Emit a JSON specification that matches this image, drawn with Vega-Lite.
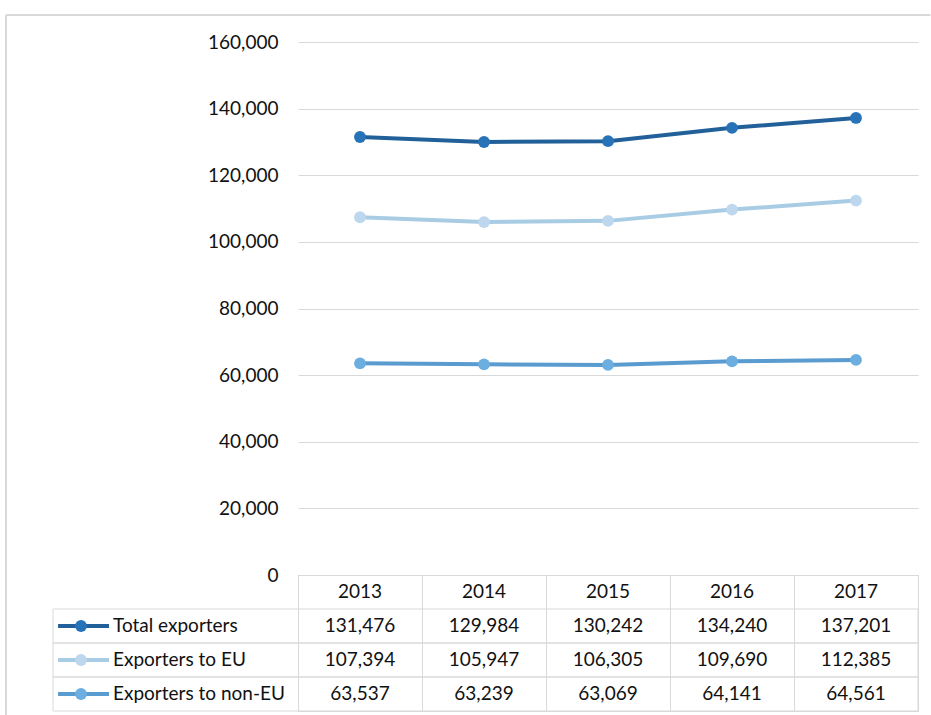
{
  "$schema": "https://vega.github.io/schema/vega-lite/v6.json",
  "padding": {"left": 4, "top": 14, "right": 0, "bottom": 0},
  "bounds": "flush",
  "spacing": 0,
  "background": "white",
  "config": {
    "view": {"stroke": null},
    "font": "Lato",
    "axis": {"labelFont": "Lato", "labelFontSize": 19, "labelColor": "#111111", "gridColor": "#d9d9d9", "gridWidth": 1}
  },
  "datasets": {
    "exp": [
      {"year": 2013, "series": "Total exporters", "value": 131476},
      {"year": 2014, "series": "Total exporters", "value": 129984},
      {"year": 2015, "series": "Total exporters", "value": 130242},
      {"year": 2016, "series": "Total exporters", "value": 134240},
      {"year": 2017, "series": "Total exporters", "value": 137201},
      {"year": 2013, "series": "Exporters to EU", "value": 107394},
      {"year": 2014, "series": "Exporters to EU", "value": 105947},
      {"year": 2015, "series": "Exporters to EU", "value": 106305},
      {"year": 2016, "series": "Exporters to EU", "value": 109690},
      {"year": 2017, "series": "Exporters to EU", "value": 112385},
      {"year": 2013, "series": "Exporters to non-EU", "value": 63537},
      {"year": 2014, "series": "Exporters to non-EU", "value": 63239},
      {"year": 2015, "series": "Exporters to non-EU", "value": 63069},
      {"year": 2016, "series": "Exporters to non-EU", "value": 64141},
      {"year": 2017, "series": "Exporters to non-EU", "value": 64561}
    ]
  },
  "vconcat": [
    {
      "width": 620,
      "height": 533,
      "layer": [
        {
          "data": {"name": "exp"},
          "mark": {"type": "line", "strokeWidth": 4},
          "encoding": {
            "x": {"field": "year", "type": "quantitative", "scale": {"domain": [2012.5, 2017.5], "nice": false, "zero": false}, "axis": null},
            "y": {
              "field": "value", "type": "quantitative",
              "scale": {"domain": [0, 160000], "nice": false, "zero": false},
              "axis": {"values": [0, 20000, 40000, 60000, 80000, 100000, 120000, 140000, 160000], "format": ",.0f", "labelPadding": 20, "ticks": false, "domain": false, "grid": true, "title": null}
            },
            "stroke": {"field": "series", "type": "nominal", "scale": {"domain": ["Total exporters", "Exporters to EU", "Exporters to non-EU"], "range": ["#22609a", "#a8cce4", "#5a9bd0"]}, "legend": null}
          }
        },
        {
          "data": {"name": "exp"},
          "mark": {"type": "circle", "size": 140, "opacity": 1},
          "encoding": {
            "x": {"field": "year", "type": "quantitative"},
            "y": {"field": "value", "type": "quantitative"},
            "fill": {"field": "series", "type": "nominal", "scale": {"domain": ["Total exporters", "Exporters to EU", "Exporters to non-EU"], "range": ["#2872b8", "#bdd7ee", "#6baedf"]}, "legend": null}
          }
        },
        {
          "data": {"values": [{}]},
          "mark": {"type": "rule", "stroke": "#d9d9d9", "strokeWidth": 2},
          "encoding": {
            "x": {"datum": 2010.145, "type": "quantitative"},
            "x2": {"datum": 2017.6},
            "y": {"datum": 168105, "type": "quantitative"}
          }
        },
        {
          "data": {"values": [{}]},
          "mark": {"type": "rule", "stroke": "#d9d9d9", "strokeWidth": 2},
          "encoding": {
            "x": {"datum": 2010.145, "type": "quantitative"},
            "y": {"datum": 168105, "type": "quantitative"},
            "y2": {"datum": -45000}
          }
        }
      ]
    },
    {
      "width": 620,
      "height": 136,
      "view": {"stroke": "#d9d9d9", "strokeWidth": 1},
      "data": {"name": "exp"},
      "layer": [
        {
          "transform": [{"filter": "datum.year == 2013"}],
          "mark": {"type": "rect", "fillOpacity": 0, "stroke": "#d9d9d9", "strokeWidth": 1},
          "encoding": {
            "x": {"datum": 2010.524, "type": "quantitative", "scale": {"domain": [2012.5, 2017.5], "nice": false, "zero": false},
                  "axis": {"values": [2012.5, 2013.5, 2014.5, 2015.5, 2016.5, 2017.5], "grid": true, "labels": false, "ticks": false, "domain": false, "title": null}},
            "x2": {"datum": 2017.5},
            "y": {"field": "series", "type": "nominal", "scale": {"domain": ["header", "Total exporters", "Exporters to EU", "Exporters to non-EU"], "paddingInner": 0, "paddingOuter": 0}, "axis": null}
          }
        },
        {
          "mark": {"type": "text", "fontSize": 19, "color": "#111111", "baseline": "middle"},
          "encoding": {
            "x": {"field": "year", "type": "quantitative"},
            "y": {"field": "series", "type": "nominal"},
            "text": {"field": "value", "type": "quantitative", "format": ",.0f"}
          }
        },
        {
          "transform": [{"filter": "datum.series == 'Total exporters'"}],
          "mark": {"type": "text", "fontSize": 19, "color": "#111111", "baseline": "middle"},
          "encoding": {
            "x": {"field": "year", "type": "quantitative"},
            "y": {"datum": "header", "type": "nominal"},
            "text": {"field": "year", "type": "nominal"}
          }
        },
        {
          "transform": [{"filter": "datum.year == 2013"}],
          "mark": {"type": "text", "fontSize": 19, "color": "#111111", "baseline": "middle", "align": "left"},
          "encoding": {
            "x": {"datum": 2011.008, "type": "quantitative"},
            "y": {"field": "series", "type": "nominal"},
            "text": {"field": "series", "type": "nominal"}
          }
        },
        {
          "transform": [{"filter": "datum.year == 2013"}],
          "mark": {"type": "rule", "strokeWidth": 4},
          "encoding": {
            "x": {"datum": 2010.565, "type": "quantitative"},
            "x2": {"datum": 2010.976},
            "y": {"field": "series", "type": "nominal"},
            "stroke": {"field": "series", "type": "nominal", "scale": {"domain": ["Total exporters", "Exporters to EU", "Exporters to non-EU"], "range": ["#22609a", "#a8cce4", "#5a9bd0"]}, "legend": null}
          }
        },
        {
          "transform": [{"filter": "datum.year == 2013"}],
          "mark": {"type": "circle", "size": 140, "opacity": 1},
          "encoding": {
            "x": {"datum": 2010.75, "type": "quantitative"},
            "y": {"field": "series", "type": "nominal"},
            "fill": {"field": "series", "type": "nominal", "scale": {"domain": ["Total exporters", "Exporters to EU", "Exporters to non-EU"], "range": ["#2872b8", "#bdd7ee", "#6baedf"]}, "legend": null}
          }
        }
      ]
    }
  ]
}
